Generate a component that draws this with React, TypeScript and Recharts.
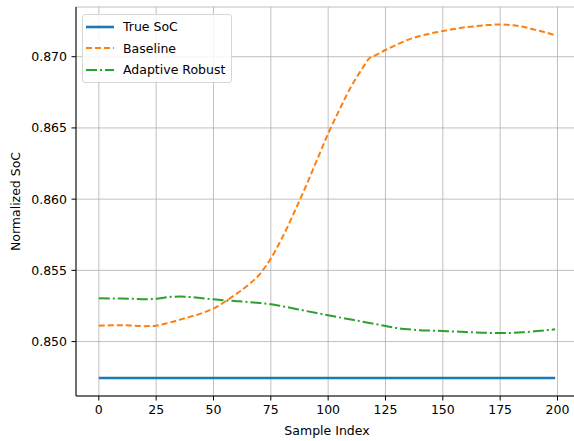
import React from 'react';
import { LineChart, Line, XAxis, YAxis, CartesianGrid, Legend } from 'recharts';

const sampleIndex = [
  0, 5, 10, 15, 20, 25, 30, 35, 40, 45, 50, 55, 60, 65, 70, 75, 80, 85, 90, 95,
  100, 105, 110, 115, 118, 120, 125, 130, 135, 140, 145, 150, 155, 160, 165, 170, 175, 180, 185, 190, 195, 199,
];

const baseline = [
  0.85112, 0.85114, 0.85115, 0.85112, 0.85108, 0.85112, 0.8513, 0.85152, 0.85175, 0.852, 0.85232, 0.8528,
  0.85335, 0.85395, 0.8547, 0.85583, 0.8573, 0.859, 0.8608, 0.8627, 0.8646, 0.8663, 0.8679, 0.8692, 0.8699,
  0.87005, 0.87047, 0.87085, 0.8712, 0.87145, 0.87165, 0.8718, 0.87195, 0.87207, 0.87215, 0.87222, 0.87227,
  0.87222, 0.8721, 0.8719, 0.8717, 0.8715,
];

const adaptiveRobust = [
  0.85304, 0.85303, 0.85302, 0.853, 0.85297, 0.853, 0.85312, 0.85316, 0.85313, 0.85305, 0.85297, 0.8529,
  0.85284, 0.85278, 0.85271, 0.85262, 0.85248, 0.85233, 0.85216, 0.852, 0.85185, 0.8517, 0.85155, 0.8514,
  0.85131, 0.85125, 0.8511, 0.85095, 0.85086, 0.8508, 0.85077, 0.85074, 0.85071, 0.85067, 0.85064, 0.85061,
  0.8506, 0.85061, 0.85065, 0.85072, 0.8508, 0.85086,
];

const trueSocValue = 0.84744;

const xTicks = [0, 25, 50, 75, 100, 125, 150, 175, 200];
const yTicks = [0.85, 0.855, 0.86, 0.865, 0.87];

const data = sampleIndex.map((x, i) => ({
  x,
  trueSoc: trueSocValue,
  baseline: baseline[i],
  adaptive: adaptiveRobust[i],
}));

const FONT = '"DejaVu Sans", sans-serif';

const legendItems = [
  { name: 'True SoC', color: '#1f77b4', width: 2.6, dash: undefined },
  { name: 'Baseline', color: '#ff7f0e', width: 2, dash: '6 3' },
  { name: 'Adaptive Robust', color: '#2ca02c', width: 2, dash: '11 3 2 3' },
];

const renderLegend = () => (
  <div
    style={{
      border: '1px solid #d6d6d6',
      borderRadius: 3,
      background: 'rgba(255,255,255,0.85)',
      padding: '1px 6px 1px 3px',
      fontFamily: FONT,
      fontSize: 12.5,
      color: '#000',
    }}
  >
    {legendItems.map((it) => (
      <div key={it.name} style={{ display: 'flex', alignItems: 'center', height: 21.5 }}>
        <svg width={28} height={10} style={{ marginRight: 9 }}>
          <line x1={0} y1={5} x2={28} y2={5} stroke={it.color} strokeWidth={it.width} strokeDasharray={it.dash} />
        </svg>
        <span>{it.name}</span>
      </div>
    ))}
  </div>
);

export default function App() {
  return (
    <div style={{ position: 'absolute', left: 0, top: 0, width: 574, height: 441, overflow: 'hidden', background: '#fff' }}>
      <LineChart width={580} height={441} data={data} margin={{ top: 7, right: 2, left: 0, bottom: 0 }}>
        <CartesianGrid stroke="#b0b0b0" strokeWidth={0.8} />
        <XAxis
          dataKey="x"
          type="number"
          domain={[-9.95, 208.95]}
          ticks={xTicks}
          allowDataOverflow
          height={45}
          stroke="#000"
          tickSize={4.5}
          tickMargin={5}
          tick={{ fill: '#000', fontSize: 12.5, fontFamily: FONT }}
          label={{ value: 'Sample Index', position: 'insideBottom', offset: 6, fill: '#000', fontSize: 12.5, fontFamily: FONT }}
        />
        <XAxis xAxisId="top" orientation="top" dataKey="x" type="number" domain={[-9.95, 208.95]} height={0} tick={false} tickLine={false} stroke="#000" />
        <YAxis
          type="number"
          domain={[0.84618, 0.87349]}
          ticks={yTicks}
          allowDataOverflow
          width={76}
          stroke="#000"
          tickSize={4.5}
          tickMargin={4.5}
          tickFormatter={(v: number) => v.toFixed(3)}
          tick={{ fill: '#000', fontSize: 12.5, fontFamily: FONT }}
          label={{ value: 'Normalized SoC', angle: -90, position: 'insideLeft', offset: 16, fill: '#000', fontSize: 12.5, fontFamily: FONT, style: { textAnchor: 'middle' } }}
        />
        <Legend
          layout="vertical"
          align="center"
          verticalAlign="middle"
          content={renderLegend}
          wrapperStyle={{ position: 'absolute', left: 82, top: 14, width: 'auto', height: 'auto' }}
        />
        <Line type="monotone" dataKey="trueSoc" name="True SoC" stroke="#1f77b4" strokeWidth={2.6} dot={false} isAnimationActive={false} />
        <Line type="monotone" dataKey="baseline" name="Baseline" stroke="#ff7f0e" strokeWidth={2} strokeDasharray="6 3" dot={false} isAnimationActive={false} />
        <Line type="monotone" dataKey="adaptive" name="Adaptive Robust" stroke="#2ca02c" strokeWidth={2} strokeDasharray="11 3 2 3" dot={false} isAnimationActive={false} />
      </LineChart>
    </div>
  );
}
